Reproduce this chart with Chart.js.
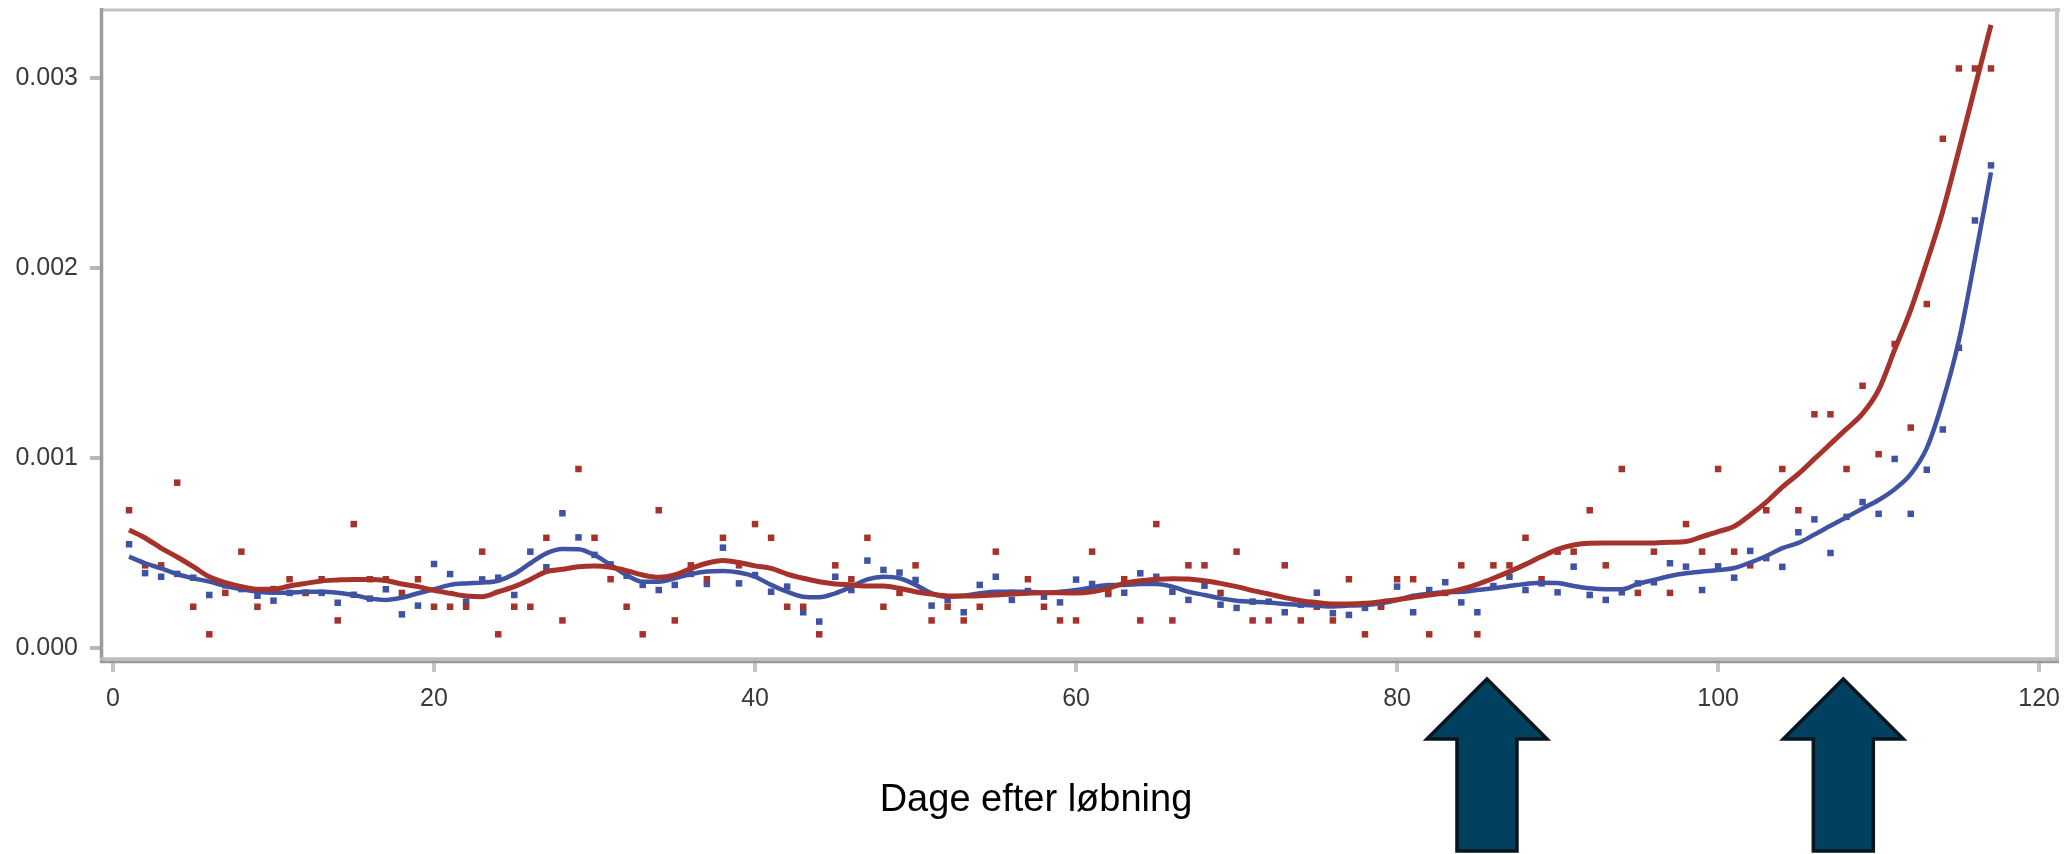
<!DOCTYPE html>
<html>
<head>
<meta charset="utf-8">
<script src="https://cdn.jsdelivr.net/npm/chart.js@4.4.1/dist/chart.umd.min.js"></script>
<style>
    body { margin: 0; background: #fff; }
    .wrap { position: relative; width: 2068px; height: 854px; }
    .x-title {
        position: absolute; left: 736px; top: 777px; width: 600px;
        text-align: center; font: 38px/42px 'Liberation Sans', Arial, sans-serif; color: #000;
    }
</style>
</head>
<body>
<div class="wrap">
    <canvas id="chart" width="2068" height="854"></canvas>
    <div class="x-title">Dage efter løbning</div>
</div>
<script>
// Day numbers (x)
const days = [1, 2, 3, 4, 5, 6, 7, 8, 9, 10, 11, 12, 13, 14, 15, 16, 17, 18, 19, 20,
    21, 22, 23, 24, 25, 26, 27, 28, 29, 30, 31, 32, 33, 34, 35, 36, 37, 38, 39, 40,
    41, 42, 43, 44, 45, 46, 47, 48, 49, 50, 51, 52, 53, 54, 55, 56, 57, 58, 59, 60,
    61, 62, 63, 64, 65, 66, 67, 68, 69, 70, 71, 72, 73, 74, 75, 76, 77, 78, 79, 80,
    81, 82, 83, 84, 85, 86, 87, 88, 89, 90, 91, 92, 93, 94, 95, 96, 97, 98, 99, 100,
    101, 102, 103, 104, 105, 106, 107, 108, 109, 110, 111, 112, 113, 114, 115, 116, 117];

// Red series: observed values
const redPoints = [0.000725, 0.000435, 0.000435, 0.00087, 0.000217, 0.000072, 0.00029, 0.000507, 0.000217, 0.00031,
    0.000362, 0.00029, 0.000362, 0.000145, 0.000652, 0.000362, 0.000362, 0.00029, 0.000362, 0.000217,
    0.000217, 0.000217, 0.000507, 0.000072, 0.000217, 0.000217, 0.00058, 0.000145, 0.000942, 0.00058,
    0.000362, 0.000217, 0.000072, 0.000725, 0.000145, 0.000435, 0.000362, 0.00058, 0.000435, 0.000652,
    0.00058, 0.000217, 0.000217, 0.000072, 0.000435, 0.000362, 0.00058, 0.000217, 0.00029, 0.000435,
    0.000145, 0.000217, 0.000145, 0.000217, 0.000507, 0.00029, 0.000362, 0.000217, 0.000145, 0.000145,
    0.000507, 0.00029, 0.000362, 0.000145, 0.000652, 0.000145, 0.000435, 0.000435, 0.00029, 0.000507,
    0.000145, 0.000145, 0.000435, 0.000145, 0.000217, 0.000145, 0.000362, 0.000072, 0.000217, 0.000362,
    0.000362, 0.000072, 0.00029, 0.000435, 0.000072, 0.000435, 0.000435, 0.00058, 0.000362, 0.000507,
    0.000507, 0.000725, 0.000435, 0.000942, 0.00029, 0.000507, 0.00029, 0.000652, 0.000507, 0.000942,
    0.000507, 0.000435, 0.000725, 0.000942, 0.000725, 0.00123, 0.00123, 0.000942, 0.00138, 0.00102,
    0.0016, 0.00116, 0.00181, 0.00268, 0.00305, 0.00305, 0.00305];

// Blue series: observed values
const bluePoints = [0.000546, 0.000394, 0.000375, 0.00039, 0.00037, 0.000279, 0.00033, 0.00031, 0.000275, 0.000249,
    0.00029, 0.00029, 0.00029, 0.000238, 0.00028, 0.00026, 0.000309, 0.000177, 0.000223, 0.000442,
    0.000389, 0.000244, 0.000361, 0.00037, 0.000279, 0.000507, 0.000425, 0.000709, 0.000582, 0.00049,
    0.00044, 0.00038, 0.000332, 0.000305, 0.000332, 0.00039, 0.000337, 0.000528, 0.00034, 0.000384,
    0.000296, 0.000323, 0.000188, 0.000139, 0.000375, 0.000305, 0.00046, 0.000411, 0.000397, 0.000358,
    0.000223, 0.000253, 0.000188, 0.000332, 0.000375, 0.000253, 0.0003, 0.00027, 0.00024, 0.00036,
    0.000337, 0.000284, 0.000291, 0.000393, 0.000375, 0.000296, 0.000253, 0.000328, 0.000228, 0.000211,
    0.000244, 0.000244, 0.000188, 0.000228, 0.000291, 0.000183, 0.000174, 0.000211, 0.000223, 0.000323,
    0.000188, 0.000305, 0.000346, 0.00024, 0.000188, 0.000326, 0.000375, 0.000305, 0.00034, 0.000293,
    0.000428, 0.000279, 0.000253, 0.000293, 0.00034, 0.000346, 0.000446, 0.000428, 0.000305, 0.00043,
    0.00037, 0.000511, 0.000473, 0.000427, 0.000609, 0.000677, 0.0005, 0.00069, 0.000768, 0.000706,
    0.000995, 0.000706, 0.000938, 0.00115, 0.00158, 0.00225, 0.00254];

// Smoothed curves
const redSmooth = [0.000621, 0.000579, 0.000526, 0.000479, 0.000428, 0.000375, 0.000344, 0.000323, 0.000309, 0.000309,
    0.000326, 0.00034, 0.000353, 0.000358, 0.000361, 0.000361, 0.000355, 0.000337, 0.000323, 0.000303,
    0.000288, 0.000274, 0.00027, 0.000296, 0.000323, 0.000361, 0.000402, 0.000414, 0.000428, 0.000432,
    0.000425, 0.000407, 0.000384, 0.000372, 0.000384, 0.000418, 0.000446, 0.00046, 0.00045, 0.000432,
    0.000419, 0.000389, 0.000367, 0.000349, 0.000337, 0.000332, 0.000326, 0.000326, 0.000314, 0.000296,
    0.000284, 0.000274, 0.000274, 0.000275, 0.000279, 0.000284, 0.000288, 0.000291, 0.000291, 0.000289,
    0.000296, 0.000314, 0.00034, 0.000354, 0.000361, 0.000365, 0.000363, 0.000354, 0.00034, 0.000323,
    0.000302, 0.000284, 0.000265, 0.000249, 0.000239, 0.000232, 0.000232, 0.000235, 0.000244, 0.000254,
    0.000267, 0.000279, 0.000291, 0.000309, 0.000335, 0.000367, 0.000402, 0.00044, 0.000481, 0.000519,
    0.000542, 0.000551, 0.000552, 0.000552, 0.000552, 0.000553, 0.000556, 0.00056, 0.000586, 0.000612,
    0.00064, 0.0007, 0.000768, 0.000847, 0.000916, 0.000995, 0.001074, 0.001153, 0.001233, 0.001358,
    0.00157, 0.00178, 0.00203, 0.0023, 0.00262, 0.00295, 0.00328];

const blueSmooth = [0.000481, 0.000446, 0.000419, 0.000389, 0.000367, 0.000349, 0.000326, 0.000309, 0.000296, 0.000291,
    0.000291, 0.000296, 0.000296, 0.000291, 0.000279, 0.000261, 0.000253, 0.000265, 0.000288, 0.000309,
    0.000332, 0.00034, 0.000344, 0.000354, 0.000389, 0.000446, 0.000498, 0.000521, 0.00052, 0.000489,
    0.000437, 0.000384, 0.000349, 0.000349, 0.000367, 0.000389, 0.000402, 0.000405, 0.000397, 0.000375,
    0.000332, 0.000296, 0.00027, 0.000267, 0.000288, 0.000323, 0.000361, 0.000375, 0.000367, 0.000332,
    0.000288, 0.00027, 0.000275, 0.000288, 0.000296, 0.000296, 0.000296, 0.000291, 0.000296, 0.000305,
    0.000319, 0.000332, 0.000332, 0.000337, 0.000337, 0.000323, 0.000296, 0.000279, 0.000261, 0.000249,
    0.000244, 0.00024, 0.000232, 0.000228, 0.000223, 0.000219, 0.000223, 0.000226, 0.000235, 0.000252,
    0.000275, 0.000286, 0.000293, 0.000296, 0.000305, 0.000314, 0.000326, 0.000337, 0.000344, 0.000342,
    0.000326, 0.000314, 0.000309, 0.000309, 0.000337, 0.000358, 0.000379, 0.000393, 0.000402, 0.00041,
    0.000421, 0.00045, 0.000484, 0.000526, 0.000553, 0.000597, 0.000643, 0.000688, 0.000734, 0.000779,
    0.000836, 0.000915, 0.001052, 0.0013, 0.001618, 0.002049, 0.002503];

const xTicks = [0, 20, 40, 60, 80, 100, 120];
const yTicks = [0, 0.001, 0.002, 0.003];
const arrowDays = [85.6, 107.8];

const RED = '#a6332b';
const BLUE = '#3f53a2';
const FONT = "'Liberation Sans', Arial, sans-serif";

function toXY(values) {
    return values.map((v, i) => ({ x: days[i], y: v }));
}

// Frame round the plot area
const framePlugin = {
    id: 'frame',
    afterDraw(chart) {
        const { ctx, chartArea: a } = chart;
        ctx.save();
        ctx.lineCap = 'butt';
        ctx.strokeStyle = '#c2c2c2';
        ctx.lineWidth = 3;
        ctx.beginPath(); ctx.moveTo(a.left, 10); ctx.lineTo(a.right, 10); ctx.stroke();
        ctx.strokeStyle = '#c8c8c8';
        ctx.lineWidth = 4;
        ctx.beginPath(); ctx.moveTo(a.right - 3, 8); ctx.lineTo(a.right - 3, a.bottom + 3); ctx.stroke();
        ctx.strokeStyle = '#9c9c9c';
        ctx.lineWidth = 3.5;
        ctx.beginPath(); ctx.moveTo(101.5, 8); ctx.lineTo(101.5, a.bottom + 3); ctx.stroke();
        ctx.strokeStyle = '#bdbdbd';
        ctx.lineWidth = 3.5;
        ctx.beginPath(); ctx.moveTo(100, a.bottom - 1); ctx.lineTo(a.right - 1, a.bottom - 1); ctx.stroke();
        ctx.strokeStyle = '#9a9a9a';
        ctx.lineWidth = 2.5;
        ctx.beginPath(); ctx.moveTo(100, a.bottom + 2); ctx.lineTo(a.right - 1, a.bottom + 2); ctx.stroke();
        ctx.restore();
    }
};

// Two block arrows under the x axis
const arrowPlugin = {
    id: 'arrows',
    afterDraw(chart) {
        const ctx = chart.ctx;
        const xs = chart.scales.x;
        ctx.save();
        arrowDays.forEach(d => {
            const cx = xs.getPixelForValue(d);
            ctx.beginPath();
            ctx.moveTo(cx, 679);
            ctx.lineTo(cx + 60, 739);
            ctx.lineTo(cx + 30, 739);
            ctx.lineTo(cx + 30, 851);
            ctx.lineTo(cx - 30, 851);
            ctx.lineTo(cx - 30, 739);
            ctx.lineTo(cx - 60, 739);
            ctx.closePath();
            ctx.fillStyle = '#01405e';
            ctx.fill();
            ctx.lineWidth = 3.5;
            ctx.lineJoin = 'miter';
            ctx.strokeStyle = '#08161e';
            ctx.stroke();
        });
        ctx.restore();
    }
};

new Chart(document.getElementById('chart'), {
    type: 'scatter',
    data: {
        datasets: [{
            type: 'line',
            data: toXY(redSmooth),
            borderColor: RED,
            borderWidth: 5,
            pointRadius: 0,
            cubicInterpolationMode: 'monotone',
            order: 1
        }, {
            type: 'line',
            data: toXY(blueSmooth),
            borderColor: BLUE,
            borderWidth: 4.5,
            pointRadius: 0,
            cubicInterpolationMode: 'monotone',
            order: 2
        }, {
            data: toXY(redPoints),
            pointStyle: 'rect',
            pointRadius: 4.6,
            backgroundColor: RED,
            borderWidth: 0,
            order: 3
        }, {
            data: toXY(bluePoints),
            pointStyle: 'rect',
            pointRadius: 4.6,
            backgroundColor: BLUE,
            borderWidth: 0,
            order: 4
        }]
    },
    options: {
        responsive: false,
        animation: false,
        layout: { padding: { top: 9, right: 8, left: 0, bottom: 0 } },
        plugins: {
            legend: { display: false },
            tooltip: { enabled: false }
        },
        scales: {
            x: {
                type: 'linear',
                min: -0.685,
                max: 121.3,
                afterFit: s => {
                    s.height = 194;
                    s.paddingLeft = 0;
                    s.paddingRight = 0;
                },
                afterBuildTicks: s => { s.ticks = xTicks.map(v => ({ value: v })); },
                border: { display: false },
                grid: {
                    drawOnChartArea: false,
                    drawTicks: true,
                    tickLength: 12,
                    lineWidth: 4,
                    color: '#c4c4c4'
                },
                ticks: {
                    padding: 12,
                    color: '#3a3a3a',
                    font: { family: FONT, size: 25 },
                    maxRotation: 0,
                    callback: v => String(v)
                }
            },
            y: {
                min: -0.0000632,
                max: 0.003363,
                afterFit: s => {
                    s.width = 102;
                    s.paddingTop = 0;
                    s.paddingBottom = 0;
                },
                afterBuildTicks: s => { s.ticks = yTicks.map(v => ({ value: v })); },
                border: { display: false },
                grid: {
                    drawOnChartArea: false,
                    drawTicks: true,
                    tickLength: 12,
                    lineWidth: 4,
                    color: '#b8b8b8'
                },
                ticks: {
                    padding: 12,
                    color: '#3a3a3a',
                    font: { family: FONT, size: 25 },
                    callback: v => v.toFixed(3)
                }
            }
        }
    },
    plugins: [framePlugin, arrowPlugin]
});
</script>
</body>
</html>
